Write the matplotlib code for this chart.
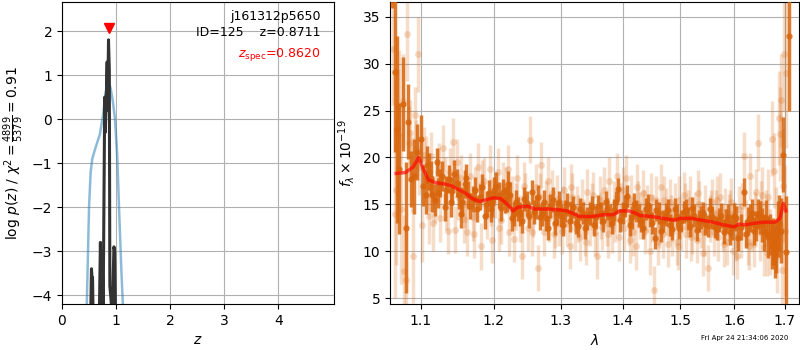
import numpy as np
import matplotlib
matplotlib.use('Agg')
import matplotlib.pyplot as plt
from matplotlib.ticker import FixedLocator, FixedFormatter, NullLocator

# p(z) curves, left panel
z_prior = [0.45, 0.47, 0.50, 0.53, 0.56, 0.62, 0.70, 0.76, 0.80, 0.84, 0.87,
           0.90, 0.94, 0.98, 1.02, 1.06, 1.10, 1.14]
logp_prior = [-4.6, -3.6, -2.0, -1.2, -0.9, -0.65, -0.35, 0.1, 0.55, 0.8, 0.82,
              0.7, 0.4, 0.0, -0.8, -2.2, -3.5, -4.6]

z_fit = [0.53, 0.545, 0.555, 0.565, 0.575, 0.69, 0.71, 0.725, 0.745, 0.76,
         0.775, 0.79, 0.80, 0.82, 0.835, 0.845, 0.86, 0.875, 0.885, 0.90,
         0.93, 0.96, 0.975, 0.99]
logp_fit = [-4.5, -3.4, -3.6, -3.6, -4.5, -4.5, -2.8, -4.0, -3.2, -4.5,
            -2.0, 0.5, -0.3, 0.55, 1.3, 0.2, 1.8, 1.1, -3.8, -4.0,
            -4.5, -2.9, -3.0, -4.5]

z_spec = 0.8620
obj_name = 'j161312p5650'
obj_id = 125
z_best = 0.8711

# binned spectrum (dark points)
wave_bin = [1.063, 1.066, 1.069, 1.072, 1.076, 1.080, 1.083, 1.087, 1.091, 1.095,
            1.100, 1.106, 1.110, 1.115, 1.121, 1.125, 1.132, 1.137, 1.142, 1.148,
            1.154, 1.159, 1.164, 1.170, 1.176, 1.184, 1.190, 1.196, 1.201, 1.207,
            1.213, 1.219, 1.224, 1.229, 1.236, 1.242, 1.249, 1.256, 1.262, 1.268,
            1.274, 1.281, 1.288, 1.294, 1.300, 1.307, 1.314, 1.320, 1.328, 1.335,
            1.342, 1.350, 1.357, 1.364, 1.372, 1.379, 1.386, 1.393, 1.400, 1.408,
            1.416, 1.423, 1.431, 1.439, 1.447, 1.455, 1.462, 1.470, 1.478, 1.486,
            1.494, 1.502, 1.510, 1.518, 1.525, 1.534, 1.542, 1.550, 1.559, 1.567,
            1.575, 1.584, 1.592, 1.600, 1.608, 1.619, 1.627, 1.635, 1.643, 1.651,
            1.659, 1.667, 1.674, 1.680, 1.686, 1.693, 1.697, 1.702, 1.709]
flux_bin = [41.0, 29.1, 23.0, 18.8, 25.7, 12.5, 23.8, 17.7, 18.0, 20.6,
            22.0, 16.0, 18.5, 16.0, 19.5, 17.3, 14.7, 17.7, 16.4, 17.3,
            14.0, 17.2, 16.0, 15.6, 14.5, 16.8, 15.0, 14.5, 16.5, 16.0,
            16.3, 15.6, 16.0, 14.0, 14.5, 13.2, 15.1, 16.3, 14.7, 13.6,
            15.2, 12.5, 15.5, 14.1, 13.8, 14.3, 13.2, 14.7, 12.7, 14.1,
            13.5, 14.7, 13.6, 14.1, 15.2, 13.8, 14.4, 16.6, 14.1, 15.9,
            13.6, 14.3, 13.2, 14.5, 13.8, 11.4, 14.1, 13.2, 14.4, 12.4,
            13.8, 13.2, 14.4, 12.7, 13.8, 13.2, 14.1, 12.7, 13.6, 12.4,
            13.8, 13.2, 12.0, 13.8, 11.4, 16.3, 13.2, 14.1, 12.7, 13.6,
            12.0, 11.5, 10.6, 9.9, 12.4, 12.2, 20.3, 9.9, 33.0]
err_bin = [5.0, 8.5, 10.0, 7.0, 5.0, 7.0, 4.0, 3.0, 4.0, 3.0,
           2.5, 2.0, 2.0, 1.8, 1.5, 1.5, 1.5, 1.5, 1.5, 1.5,
           1.5, 1.5, 1.5, 1.4, 1.4, 1.4, 1.4, 1.4, 1.4, 1.4,
           1.4, 1.4, 1.4, 1.3, 1.3, 1.3, 1.3, 1.3, 1.3, 1.3,
           1.3, 1.3, 1.3, 1.3, 1.2, 1.2, 1.2, 1.2, 1.2, 1.2,
           1.2, 1.2, 1.2, 1.2, 1.2, 1.2, 1.2, 1.2, 1.2, 1.2,
           1.2, 1.2, 1.2, 1.2, 1.2, 1.2, 1.2, 1.2, 1.2, 1.2,
           1.2, 1.2, 1.2, 1.2, 1.2, 1.2, 1.2, 1.2, 1.2, 1.2,
           1.3, 1.3, 1.3, 1.3, 1.4, 1.5, 1.5, 1.5, 1.6, 1.8,
           2.0, 2.2, 2.5, 2.8, 3.0, 3.5, 4.0, 6.0, 8.0]

# second set of binned points sitting between the ones above
wave_bin_b = [1.103, 1.108, 1.113, 1.118, 1.123, 1.128, 1.134, 1.140, 1.145, 1.151,
              1.156, 1.161, 1.167, 1.173, 1.180, 1.187, 1.193, 1.198, 1.204, 1.210,
              1.216, 1.221, 1.226, 1.232, 1.239, 1.245, 1.252, 1.259, 1.265, 1.271,
              1.277, 1.284, 1.291, 1.297, 1.303, 1.310, 1.317, 1.324, 1.331, 1.338,
              1.346, 1.353, 1.360, 1.368, 1.375, 1.382, 1.389, 1.396, 1.404, 1.412,
              1.419, 1.427, 1.435, 1.443, 1.451, 1.458, 1.466, 1.474, 1.482, 1.490,
              1.498, 1.506, 1.514, 1.521, 1.530, 1.538, 1.546, 1.555, 1.563, 1.571,
              1.580, 1.588, 1.596, 1.604, 1.613, 1.623, 1.631, 1.639, 1.647, 1.655,
              1.663, 1.671, 1.677, 1.683, 1.689]
flux_bin_b = [17.0, 19.2, 17.8, 15.5, 16.2, 18.0, 16.5, 15.2, 18.2, 16.0,
              15.3, 17.8, 14.8, 16.5, 15.8, 13.8, 16.2, 15.0, 17.0, 14.6,
              15.5, 17.2, 13.5, 15.2, 14.0, 15.6, 13.8, 14.2, 15.8, 14.0,
              13.5, 14.8, 13.0, 15.2, 12.8, 15.0, 14.2, 13.0, 14.5, 12.5,
              14.0, 12.8, 14.8, 13.2, 14.5, 13.0, 15.2, 13.3, 14.8, 12.8,
              15.0, 13.8, 12.5, 14.9, 13.0, 14.4, 12.2, 13.9, 12.8, 14.5,
              12.5, 14.2, 13.5, 14.6, 12.3, 13.6, 12.9, 14.5, 12.6, 13.3,
              12.1, 13.7, 12.5, 13.5, 12.6, 11.8, 13.5, 12.2, 14.0, 12.8,
              13.5, 11.8, 11.0, 10.5, 13.0]
err_bin_b = [2.2, 2.0, 1.8, 1.7, 1.6, 1.6, 1.5, 1.5, 1.5, 1.5,
             1.5, 1.5, 1.4, 1.4, 1.4, 1.4, 1.4, 1.4, 1.4, 1.4,
             1.4, 1.4, 1.3, 1.3, 1.3, 1.3, 1.3, 1.3, 1.3, 1.3,
             1.3, 1.3, 1.3, 1.2, 1.2, 1.2, 1.2, 1.2, 1.2, 1.2,
             1.2, 1.2, 1.2, 1.2, 1.2, 1.2, 1.2, 1.2, 1.2, 1.2,
             1.2, 1.2, 1.2, 1.2, 1.2, 1.2, 1.2, 1.2, 1.2, 1.2,
             1.2, 1.2, 1.2, 1.2, 1.2, 1.2, 1.2, 1.2, 1.2, 1.3,
             1.3, 1.3, 1.3, 1.3, 1.4, 1.5, 1.5, 1.5, 1.6, 1.8,
             2.0, 2.2, 2.5, 2.8, 3.0]

# unbinned spectrum (light points)
wave_raw = [1.064, 1.066, 1.068, 1.070, 1.072, 1.074, 1.076, 1.078, 1.080, 1.082,
            1.084, 1.086, 1.088, 1.090, 1.092, 1.094, 1.096, 1.098, 1.101, 1.104,
            1.107, 1.110, 1.113, 1.116, 1.119, 1.122, 1.126, 1.129, 1.132, 1.136,
            1.139, 1.143, 1.146, 1.150, 1.154, 1.158, 1.162, 1.166, 1.170, 1.174,
            1.178, 1.182, 1.186, 1.190, 1.194, 1.198, 1.202, 1.206, 1.210, 1.214,
            1.218, 1.222, 1.226, 1.230, 1.234, 1.238, 1.242, 1.246, 1.250, 1.254,
            1.258, 1.262, 1.266, 1.270, 1.274, 1.278, 1.282, 1.286, 1.290, 1.294,
            1.298, 1.302, 1.306, 1.310, 1.314, 1.318, 1.322, 1.326, 1.330, 1.334,
            1.338, 1.342, 1.346, 1.350, 1.354, 1.358, 1.362, 1.366, 1.370, 1.374,
            1.378, 1.382, 1.386, 1.390, 1.394, 1.398, 1.402, 1.406, 1.410, 1.414,
            1.418, 1.422, 1.426, 1.430, 1.434, 1.438, 1.442, 1.446, 1.450, 1.454,
            1.458, 1.462, 1.466, 1.470, 1.474, 1.478, 1.482, 1.486, 1.490, 1.494,
            1.498, 1.502, 1.506, 1.510, 1.514, 1.518, 1.522, 1.526, 1.530, 1.534,
            1.538, 1.542, 1.546, 1.550, 1.554, 1.558, 1.562, 1.566, 1.570, 1.574,
            1.578, 1.582, 1.586, 1.590, 1.594, 1.598, 1.602, 1.606, 1.610, 1.614,
            1.618, 1.622, 1.626, 1.630, 1.634, 1.638, 1.642, 1.646, 1.650, 1.654,
            1.658, 1.662, 1.666, 1.670, 1.674, 1.678, 1.682, 1.685, 1.688, 1.690,
            1.692, 1.694, 1.696, 1.698, 1.700, 1.702]
flux_raw = [31.6, 14.0, 16.5, 22.5, 25.5, 14.5, 26.0, 7.9, 6.9, 33.2,
            21.5, 22.6, 18.2, 9.5, 24.5, 21.0, 31.0, 19.0, 12.8, 20.3,
            19.8, 13.8, 20.2, 13.0, 15.5, 18.5, 13.5, 21.0, 17.5, 12.2,
            18.5, 21.7, 12.3, 15.8, 17.8, 13.4, 12.0, 18.0, 13.6, 16.5,
            19.0, 10.5, 17.5, 13.8, 18.8, 11.2, 16.0, 18.5, 13.3, 17.0,
            16.5, 12.0, 15.5, 11.3, 17.8, 13.5, 9.5, 15.8, 12.5, 21.9,
            14.0, 16.8, 8.2, 19.2, 12.0, 15.0, 13.5, 16.2, 11.8, 15.6,
            13.0, 12.2, 16.5, 13.0, 10.6, 15.8, 12.5, 14.5, 11.5, 15.2,
            12.0, 16.3, 13.0, 14.8, 12.0, 9.5, 15.5, 12.6, 16.5, 13.0,
            17.5, 12.3, 15.0, 18.0, 11.5, 14.8, 12.5, 17.8, 13.2, 15.6,
            12.0, 10.5, 15.0, 13.8, 16.2, 12.2, 14.6, 10.0, 13.5, 5.9,
            15.5, 12.8, 16.8, 11.8, 14.2, 10.8, 15.2, 12.0, 14.8, 11.0,
            15.5, 12.5, 16.0, 11.8, 14.0, 15.5, 12.2, 13.8, 11.2, 15.0,
            12.8, 9.8, 14.6, 8.2, 13.5, 15.2, 12.0, 14.0, 11.5, 15.8,
            12.5, 14.2, 11.0, 13.6, 15.3, 10.0, 12.8, 9.5, 14.5, 11.8,
            20.2, 13.0, 11.0, 18.0, 12.5, 10.8, 16.3, 21.6, 12.0, 16.0,
            10.4, 13.5, 15.8, 11.0, 22.0, 18.6, 12.8, 9.5, 24.2, 22.5,
            26.1, 8.0, 17.0, 31.0, 12.2, 29.0]
err_raw = [6, 9, 8, 7, 6, 8, 5, 6, 6, 5,
           4, 3.5, 4, 5, 3, 3, 4, 3, 4, 3,
           2.5, 3, 2.5, 3, 2.5, 2.5, 2.5, 2.5, 2.5, 2.5,
           2.5, 2.5, 2.5, 2.5, 2.5, 2.5, 2.5, 2.5, 2.5, 2.5,
           2.5, 2.5, 2.5, 2.5, 2.5, 2.5, 2.5, 2.5, 2.5, 2.5,
           2.5, 2.5, 2.5, 2.5, 2.5, 2.5, 2.5, 2.5, 2.5, 2.5,
           2.5, 2.5, 2.5, 2.5, 2.5, 2.5, 2.5, 2.5, 2.5, 2.5,
           2.5, 2.5, 2.5, 2.5, 2.5, 2.5, 2.5, 2.5, 2.5, 2.5,
           2.5, 2.5, 2.5, 2.5, 2.5, 2.5, 2.5, 2.5, 2.5, 2.5,
           2.5, 2.5, 2.5, 2.5, 2.5, 2.5, 2.5, 2.5, 2.5, 2.5,
           2.5, 2.5, 2.5, 2.5, 2.5, 2.5, 2.5, 2.5, 2.5, 2.5,
           2.5, 2.5, 2.5, 2.5, 2.5, 2.5, 2.5, 2.5, 2.5, 2.5,
           2.5, 2.5, 2.5, 2.5, 2.5, 2.5, 2.5, 2.5, 2.5, 2.5,
           2.5, 2.5, 2.5, 2.5, 2.5, 2.5, 2.5, 2.5, 2.5, 2.5,
           2.5, 2.5, 2.5, 2.5, 2.5, 2.5, 2.5, 2.5, 2.5, 2.5,
           2.5, 2.5, 2.5, 2.5, 2.5, 2.5, 2.5, 3, 3, 3,
           3, 3, 3, 3.5, 4, 4, 4, 4, 5, 5,
           5, 5, 6, 6, 7, 8]

wave_raw_b = [1.111, 1.124, 1.134, 1.148, 1.160, 1.172, 1.184, 1.196, 1.208, 1.220,
              1.232, 1.244, 1.256, 1.268, 1.280, 1.292, 1.304, 1.316, 1.328, 1.340,
              1.352, 1.364, 1.376, 1.388, 1.400, 1.412, 1.424, 1.436, 1.448, 1.460,
              1.472, 1.484, 1.496, 1.508, 1.520, 1.532, 1.544, 1.556, 1.568, 1.580,
              1.592, 1.604, 1.616, 1.628, 1.640, 1.652, 1.664]
flux_raw_b = [16.8, 19.0, 14.8, 19.5, 15.0, 11.8, 17.2, 15.2, 12.5, 18.8,
              14.8, 17.0, 12.0, 15.8, 17.5, 12.8, 14.5, 16.8, 13.5, 11.0,
              16.0, 13.8, 11.8, 13.5, 16.5, 11.2, 16.8, 14.0, 15.8, 11.0,
              15.5, 13.5, 10.5, 14.8, 11.5, 16.2, 12.0, 14.0, 15.5, 10.8,
              14.0, 11.5, 14.8, 10.5, 13.8, 15.0, 9.8]
err_raw_b = [2.5] * len(wave_raw_b)

# best-fit model (red line)
wave_model = [1.068, 1.08, 1.09, 1.097, 1.103, 1.11, 1.12, 1.13, 1.14, 1.15,
              1.16, 1.17, 1.18, 1.19, 1.20, 1.21, 1.22, 1.228, 1.235, 1.25,
              1.26, 1.28, 1.30, 1.31, 1.32, 1.33, 1.35, 1.37, 1.385, 1.395,
              1.41, 1.42, 1.43, 1.45, 1.47, 1.49, 1.50, 1.52, 1.54, 1.56,
              1.58, 1.60, 1.61, 1.62, 1.64, 1.66, 1.68, 1.69, 1.697, 1.702]
flux_model = [18.3, 18.4, 19.0, 20.0, 18.8, 17.6, 17.3, 17.2, 17.0, 16.6,
              16.2, 15.6, 15.3, 15.5, 15.7, 15.6, 15.0, 14.3, 14.7, 14.8,
              14.5, 14.5, 14.4, 14.3, 14.0, 13.7, 13.7, 13.9, 13.9, 14.3,
              14.3, 14.1, 13.8, 13.7, 13.5, 13.3, 13.5, 13.5, 13.3, 13.1,
              12.8, 12.6, 12.9, 12.8, 13.0, 13.1, 13.1, 13.5, 15.1, 14.3]

wave_ticks = [1.1, 1.2, 1.3, 1.4, 1.5, 1.6, 1.7]
timestamp = 'Fri Apr 24 21:34:06 2020'

spec_col = '#d8650c'

fig = plt.figure(figsize=(8, 3.5), dpi=100)
ax1 = fig.add_axes([0.0775, 0.1314, 0.34, 0.8629])
ax2 = fig.add_axes([0.4875, 0.1314, 0.51125, 0.8629])

# left: redshift probability
ax1.plot(z_prior, logp_prior, color='tab:blue', alpha=0.5, lw=1.8)
ax1.plot(z_fit, logp_fit, color='0.2', lw=2.2)
ax1.plot([z_spec], [2.08], 'v', color='red', ms=7)
ax1.set_xlim(0, 5.03)
ax1.set_ylim(-4.2, 2.66)
ax1.set_yticks([-4, -3, -2, -1, 0, 1, 2])
ax1.set_xticks([0, 1, 2, 3, 4])
ax1.grid(True)
ax1.set_xlabel(r'$z$')
ax1.set_ylabel(r'$\log\,p(z)$ / $\chi^2=\frac{4899}{5379}=0.91$')
ax1.text(0.95, 0.975, obj_name, transform=ax1.transAxes, ha='right', va='top', fontsize=9)
ax1.text(0.95, 0.92, 'ID=%d    z=%.4f' % (obj_id, z_best), transform=ax1.transAxes,
         ha='right', va='top', fontsize=9)
ax1.text(0.95, 0.855, r'$z_\mathrm{spec}$=%.4f' % z_spec, transform=ax1.transAxes,
         ha='right', va='top', fontsize=9, color='red')

# right: spectrum
for w, f, e in [(wave_raw, flux_raw, err_raw), (wave_raw_b, flux_raw_b, err_raw_b)]:
    ax2.errorbar(w, f, yerr=e, fmt='o', ms=5, color=spec_col,
                 alpha=0.22, elinewidth=2.5, mec='none', zorder=2)
for w, f, e in [(wave_bin, flux_bin, err_bin), (wave_bin_b, flux_bin_b, err_bin_b)]:
    ax2.errorbar(w, f, yerr=e, fmt='o', ms=4.5, color=spec_col,
                 alpha=0.85, elinewidth=2.5, mec='none', zorder=3)
ax2.plot(wave_model, flux_model, color='red', alpha=0.65, lw=2.5, zorder=4)
ax2.set_xscale('log')
ax2.set_xlim(1.06, 1.729)
ax2.set_ylim(4.36, 36.6)
ax2.xaxis.set_major_locator(FixedLocator(wave_ticks))
ax2.xaxis.set_major_formatter(FixedFormatter(['%.1f' % w for w in wave_ticks]))
ax2.xaxis.set_minor_locator(NullLocator())
ax2.set_yticks([5, 10, 15, 20, 25, 30, 35])
ax2.grid(True)
ax2.set_xlabel(r'$\lambda$')
ax2.set_ylabel(r'$f_\lambda\times10^{-19}$')

fig.text(0.985, 0.025, timestamp, ha='right', va='bottom', fontsize=5)

fig.savefig('out.png', dpi=100)
